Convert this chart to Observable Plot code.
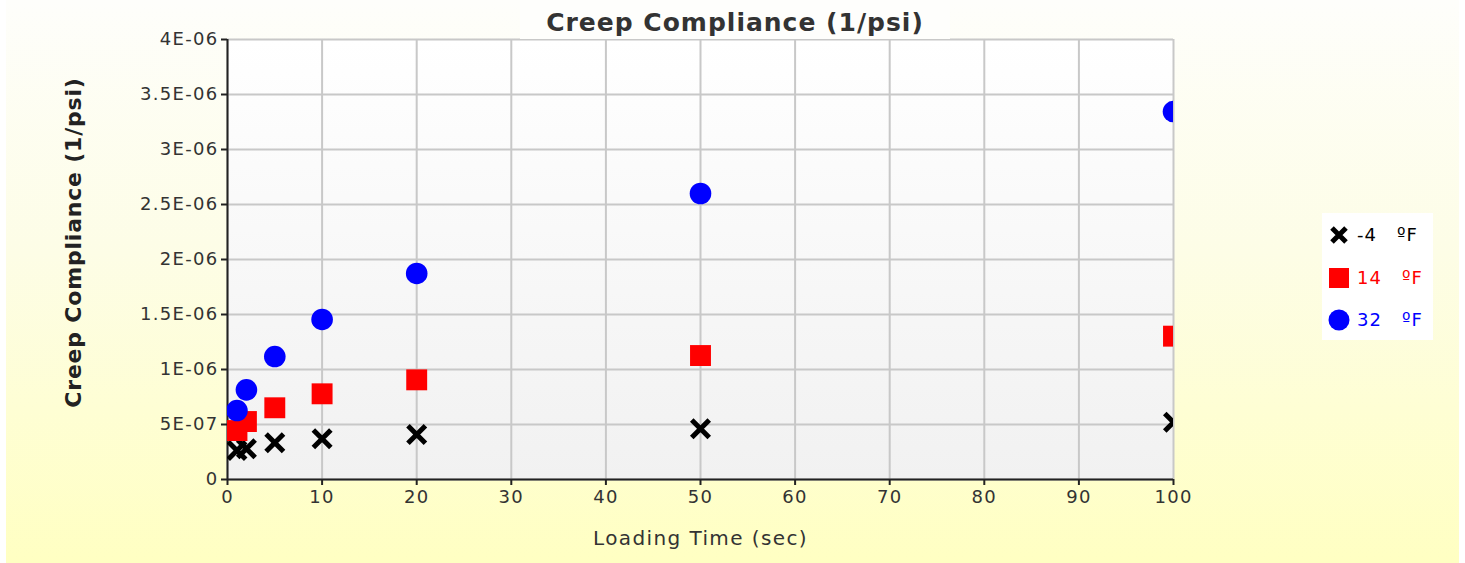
<!DOCTYPE html>
<html>
<head>
<meta charset="utf-8">
<script src="https://cdn.jsdelivr.net/npm/d3@7"></script>
<script src="https://cdn.jsdelivr.net/npm/@observablehq/plot@0.6"></script>
<style>
  html, body { margin: 0; padding: 0; background: #fff; }
  #wrap { position: relative; width: 1465px; height: 563px; overflow: hidden; background: #fff; }
  #bg { position: absolute; left: 6px; right: 6px; top: 0; bottom: 0;
        background: linear-gradient(to bottom, #fefefb 0%, #fdfde6 45%, #ffffc2 100%); }
  #chart { position: absolute; left: 0; top: 0; }
  #title { position: absolute; left: 520px; top: 0; width: 430px; height: 39px;
           background: #fefefc; text-align: center; font: bold 25px "DejaVu Sans", sans-serif;
           letter-spacing: 1px; line-height: 46px; color: #333; overflow: hidden; }
  #legend { position: absolute; left: 1322px; top: 213px; width: 111px; height: 127px;
            background: #fff; font: 18px "DejaVu Sans", sans-serif; letter-spacing: 1px; }
  .row { position: absolute; left: 6px; height: 24px; line-height: 24px; white-space: pre; }
  .row svg { position: absolute; left: 0; top: 1px; }
  .row span { position: absolute; left: 29px; top: 0; }
</style>
</head>
<body>
<div id="wrap">
  <div id="bg"></div>
  <div id="chart"></div>
  <div id="title"></div>
  <div id="legend"></div>
</div>
<script>
// ---- data ----
const loadTimes = [1, 2, 5, 10, 20, 50, 100];
const seriesLabels = ["-4", "14", "32"];
const seriesColors = ["#000000", "#ff0000", "#0000ff"];
const seriesSymbols = ["times", "square", "circle"];
const complianceM4 = [2.64e-7, 2.79e-7, 3.34e-7, 3.70e-7, 4.09e-7, 4.61e-7, 5.21e-7];
const compliance14 = [4.45e-7, 5.27e-7, 6.52e-7, 7.79e-7, 9.06e-7, 1.127e-6, 1.303e-6];
const compliance32 = [6.27e-7, 8.15e-7, 1.118e-6, 1.455e-6, 1.873e-6, 2.60e-6, 3.345e-6];
const xTicks = [0, 10, 20, 30, 40, 50, 60, 70, 80, 90, 100];
const yTicks = [0, 5e-7, 1e-6, 1.5e-6, 2e-6, 2.5e-6, 3e-6, 3.5e-6, 4e-6];
const titleText = "Creep Compliance (1/psi)";
const xLabel = "Loading Time (sec)";
const yLabel = "Creep Compliance (1/psi)";
const unitText = "ºF";

// ---- build table ----
const allSeries = [complianceM4, compliance14, compliance32];
const rows = [];
allSeries.forEach((vals, s) => vals.forEach((v, i) => rows.push({series: seriesLabels[s], t: loadTimes[i], c: v})));
const bySeries = s => rows.filter(r => r.series === seriesLabels[s]);

function fmtE(d) {
  if (d === 0) return "0";
  const e = Math.floor(Math.log10(d) + 1e-9);
  const m = +(d / Math.pow(10, e)).toFixed(3);
  return m + "E-" + String(-e).padStart(2, "0");
}

const grid = {stroke: "#c8c8c8", strokeOpacity: 1, strokeWidth: 2};

const chart = Plot.plot({
  width: 1465, height: 563,
  marginLeft: 227, marginRight: 292, marginTop: 39, marginBottom: 84,
  style: {background: "transparent", fontFamily: "DejaVu Sans, sans-serif", fontSize: "18px", color: "#333", letterSpacing: "1.3px"},
  x: {domain: [0, 100]},
  y: {domain: [0, 4e-6]},
  marks: [
    Plot.frame({fill: "url(#plotBg)", stroke: null}),
    Plot.gridX(xTicks, grid),
    Plot.gridY(yTicks, grid),
    Plot.axisX(xTicks, {tickSize: 6, tickPadding: 5, tickFormat: d => String(d), label: null, stroke: "#222", strokeWidth: 2, fill: "#333"}),
    Plot.axisY(yTicks, {tickSize: 6, tickPadding: 3, tickFormat: fmtE, label: null, stroke: "#222", strokeWidth: 2, fill: "#333"}),
    Plot.ruleX([0], {stroke: "#222", strokeWidth: 2}),
    Plot.ruleY([0], {stroke: "#222", strokeWidth: 2}),
    Plot.dot(bySeries(0), {x: "t", y: "c", symbol: () => seriesSymbols[0], r: 8, stroke: seriesColors[0], strokeWidth: 5, fill: "none", clip: true}),
    Plot.dot(bySeries(1), {x: "t", y: "c", symbol: () => seriesSymbols[1], r: 11.8, fill: seriesColors[1], clip: true}),
    Plot.dot(bySeries(2), {x: "t", y: "c", symbol: () => seriesSymbols[2], r: 10.8, fill: seriesColors[2], clip: true}),
    Plot.text([xLabel], {text: d => d, frameAnchor: "bottom", textAnchor: "middle", lineAnchor: "middle", dy: 59, fill: "#333", fontSize: 20}),
    Plot.text([yLabel], {text: d => d, frameAnchor: "left", textAnchor: "middle", lineAnchor: "middle", dx: -154, dy: -17, rotate: -90, fill: "#222", fontSize: 22, fontWeight: "bold"})
  ]
});

// gradient for plot area
const svg = d3.select(chart);
svg.insert("defs", ":first-child").html(
  '<linearGradient id="plotBg" x1="0" y1="0" x2="0" y2="1">' +
  '<stop offset="0" stop-color="#ffffff"/><stop offset="1" stop-color="#f1f1f1"/></linearGradient>');
svg.selectAll("text").filter(function() { return this.textContent === xLabel; }).style("letter-spacing", "1.4px");
svg.selectAll("text").filter(function() { return this.textContent === yLabel; }).style("letter-spacing", "0.8px");
document.getElementById("chart").appendChild(chart);
document.getElementById("title").textContent = titleText;

// legend
const legend = d3.select("#legend");
const symPaths = {
  times: '<path d="M4,4L18,18M4,18L18,4" stroke="#000" stroke-width="5" fill="none"/>',
  square: '<rect x="1" y="1" width="20" height="20" fill="#ff0000"/>',
  circle: '<circle cx="11" cy="11" r="10.5" fill="#0000ff"/>'
};
seriesLabels.forEach((lab, i) => {
  const row = legend.append("div").attr("class", "row").style("top", (10 + i * 42.5) + "px").style("color", seriesColors[i]);
  row.append("svg").attr("width", 22).attr("height", 22).html(symPaths[seriesSymbols[i]]);
  row.append("span").text(lab + "\u00a0\u00a0 " + unitText);
});
</script>
</body>
</html>
